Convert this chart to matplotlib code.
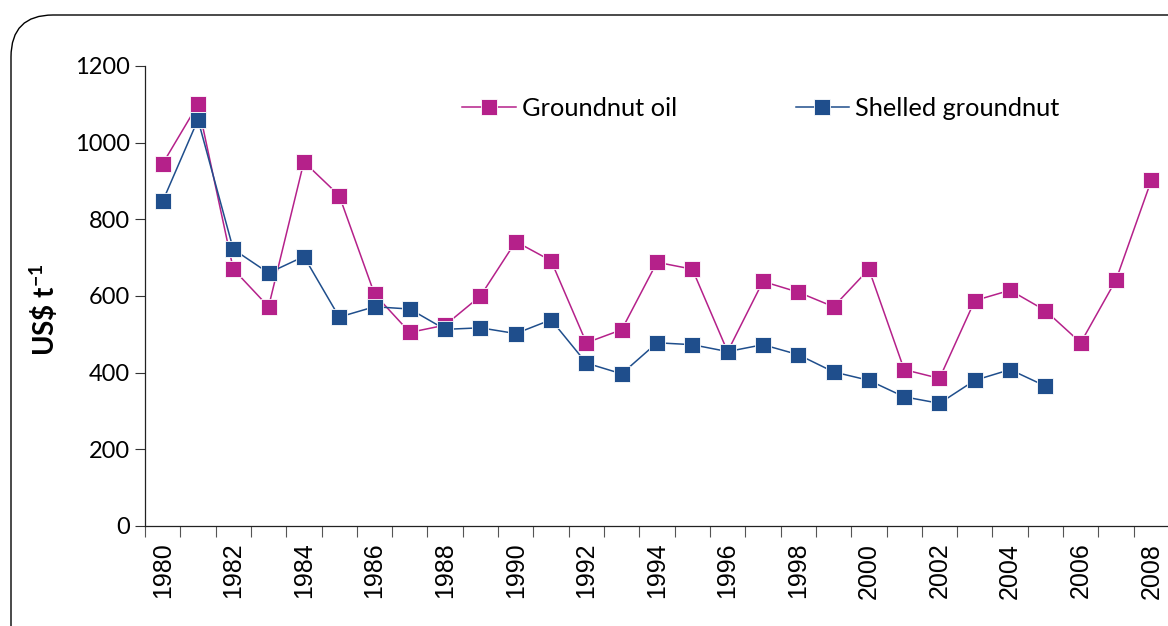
import matplotlib
matplotlib.use("Agg")
import matplotlib.pyplot as plt
import matplotlib.patches as mpatches
from matplotlib.transforms import IdentityTransform
import numpy as np

years = list(range(1980, 2009))
groundnut_oil = [945, 1100, 670, 572, 950, 862, 605, 505, 524, 600, 742, 692, 478, 512,
                 688, 670, 455, 638, 610, 572, 670, 408, 385, 588, 615, 562, 478, 642, 902]
shelled_groundnut = [847, 1060, 722, 660, 703, 545, 572, 566, 513, 517, 502, 538, 425, 397,
                     478, 473, 455, 473, 447, 402, 380, 337, 320, 380, 408, 365]
tick_years = years[::2]

oil_color = "#B5218A"
nut_color = "#1F4E8C"

plt.rcParams["mathtext.fontset"] = "custom"
plt.rcParams["mathtext.bf"] = "Lato:bold"
plt.rcParams["mathtext.rm"] = "Lato"

fig = plt.figure(figsize=(11.68, 6.26), dpi=100)
ax = fig.add_axes([145 / 1168, 1 - 526 / 626, 1024 / 1168, 460 / 626])

ax.plot(years, groundnut_oil, color=oil_color, lw=1.1, marker="s", ms=11,
        mec="white", mew=0.6, label="Groundnut oil", clip_on=False)
ax.plot(years[:len(shelled_groundnut)], shelled_groundnut, color=nut_color, lw=1.1,
        marker="s", ms=11, mec="white", mew=0.6, label="Shelled groundnut", clip_on=False)

ax.set_xlim(1979.5, 2008.5)
ax.set_ylim(0, 1200)
ax.set_yticks(range(0, 1201, 200))
ax.tick_params(axis="y", length=7, width=0.8, color="#333333", labelsize=17, pad=4)
for lab in ax.get_yticklabels():
    lab.set_fontfamily("Lato")

# boundaries carry the tick marks, centres carry the labels
ax.set_xticks(np.arange(1979.5, 2009, 1.0))
ax.set_xticklabels([])
ax.set_xticks(tick_years, [str(y) for y in tick_years], minor=True)
ax.tick_params(axis="x", which="major", length=8, width=0.8, color="#555555")
ax.tick_params(axis="x", which="minor", length=0, labelsize=18, pad=12)
for lab in ax.get_xticklabels(minor=True):
    lab.set_rotation(90)
    lab.set_fontfamily("Liberation Sans")
    lab.set_va("top")

for s in ["top", "right"]:
    ax.spines[s].set_visible(False)
for s in ["left", "bottom"]:
    ax.spines[s].set_linewidth(0.9)
    ax.spines[s].set_color("#222222")

ax.set_ylabel(r"US\$ t$^{\mathbf{-1}}$", fontsize=20, fontweight="bold", family="Lato")
ax.yaxis.set_label_coords((60 - 145) / 1024, 0.47)

leg = ax.legend(loc="center left", bbox_to_anchor=(0.31, 0.908), ncol=2, frameon=False,
                borderaxespad=0, borderpad=0, handlelength=2.1, handletextpad=0.25,
                columnspacing=4.65, numpoints=1, prop={"family": "Lato", "size": 18.3})

frame = mpatches.FancyBboxPatch((11, -60), 1230, 671,
                                boxstyle="round,pad=0,rounding_size=42",
                                transform=IdentityTransform(), fill=False,
                                edgecolor="black", linewidth=1.0)
fig.patches.append(frame)

fig.savefig("out.png", dpi=100)
